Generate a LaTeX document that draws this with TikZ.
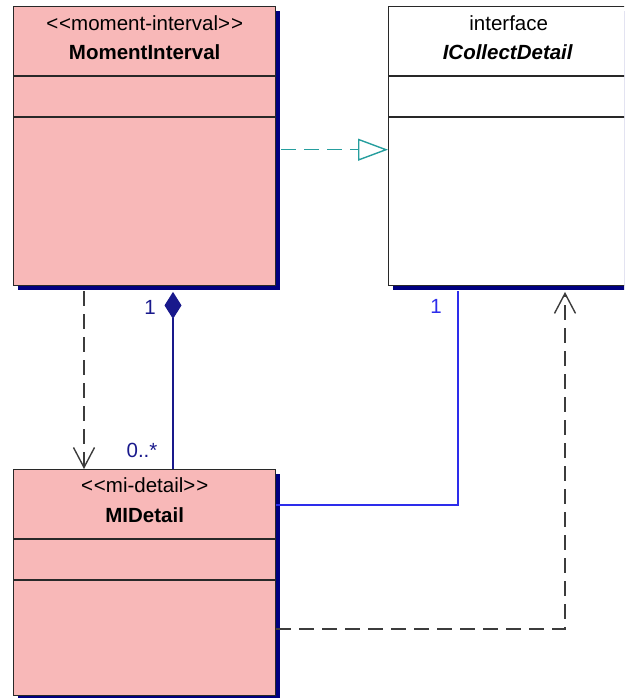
\documentclass[tikz,border=0pt]{standalone}
\usepackage{fontspec}
\setmainfont[Ligatures=NoCommon]{Liberation Sans}
\usetikzlibrary{arrows.meta,calc,shadows}
\definecolor{boxpink}{RGB}{248,184,184}
\definecolor{boxline}{RGB}{40,40,40}
\definecolor{shadowc}{RGB}{0,0,128}
\definecolor{navyc}{RGB}{25,25,140}
\definecolor{assocc}{RGB}{45,45,235}
\definecolor{tealc}{RGB}{38,158,158}
\definecolor{depc}{RGB}{60,60,60}
\tikzset{
  umlbox/.style={draw=boxline, line width=1.4pt, rectangle, inner sep=0pt, anchor=north west,
    drop shadow={shadow xshift=4.5pt, shadow yshift=-4.5pt, fill=shadowc, opacity=1}},
  stereo/.style={font=\fontsize{20.5}{24}\selectfont, inner sep=0pt},
  clsname/.style={font=\fontsize{20.5}{24}\selectfont\bfseries, inner sep=0pt},
  lbl/.style={font=\fontsize{20.5}{24}\selectfont, inner sep=0pt},
  dashline/.style={line width=1.5pt, dash pattern=on 15pt off 8pt},
  dep/.style={dashline, draw=depc, -{Straight Barb[length=20pt,width=21pt,line width=1.4pt]}},
  realiz/.style={dashline, draw=tealc, -{Triangle[open,length=30pt,width=22pt,line width=1.4pt]}},
  compos/.style={draw=navyc, line width=1.4pt, {Diamond[length=27pt,width=17pt]}-},
  assoc/.style={draw=assocc, line width=1.4pt}
}
\newcommand{\lt}{\symbol{60}}
\newcommand{\gt}{\symbol{62}}
\begin{document}
\begin{tikzpicture}[x=1pt,y=-1pt]
\useasboundingbox (0,0) rectangle (624,698);
\clip (0,0) rectangle (624,698);
% boxes
\node[umlbox, fill=boxpink, minimum width=262pt, minimum height=279pt] (mi) at (13,6) {};
\node[umlbox, fill=white, minimum width=242pt, minimum height=279pt] (ic) at (388,6) {};
\node[umlbox, fill=boxpink, minimum width=262pt, minimum height=226pt] (mid) at (13,469) {};
% compartments
\foreach \b in {mi,ic,mid}{
  \draw[boxline, line width=1.4pt] ([yshift=-70pt]\b.north west) -- ([yshift=-70pt]\b.north east);
  \draw[boxline, line width=1.4pt] ([yshift=-111pt]\b.north west) -- ([yshift=-111pt]\b.north east);
}
% texts
\node[stereo] (mist) at ($(mi.north)+(0,17)$) {\lt\kern1pt\lt moment-interval\gt\kern1pt\gt};
\node[clsname] (mina) at ($(mi.north)+(0,46)$) {MomentInterval};
\node[stereo] (icst) at ($(ic.north)+(-1,17)$) {interface};
\node[clsname, font=\fontsize{20.5}{24}\selectfont\bfseries\itshape] (icna) at ($(ic.north)+(-2,46)$) {ICollectDetail};
\node[stereo] (midst) at ($(mid.north)+(0,16)$) {\lt\kern1pt\lt mi-detail\gt\kern1pt\gt};
\node[clsname] (midna) at ($(mid.north)+(0,46)$) {MIDetail};
% connectors
\draw[realiz, shorten <=5pt] ([yshift=-3.5pt]mi.east) -- ([yshift=-3.5pt]ic.west);
\draw[dep, shorten <=5pt] ([xshift=71pt]mi.south west) -- ([xshift=71pt]mid.north west);
\draw[compos, shorten <=5.5pt] ([xshift=160pt]mi.south west) -- ([xshift=160pt]mid.north west);
\draw[assoc, shorten >=5pt] ([yshift=-36pt]mid.north east) -| ([xshift=70pt]ic.south west);
\draw[dep, shorten >=5.5pt] ([yshift=-160pt]mid.north east) -| ([xshift=177pt]ic.south west);
% labels
\node[lbl, text=navyc] (c1) at (150,307) {1};
\node[lbl, text=navyc] (c2) at (142,450) {0..*};
\node[lbl, text=assocc] (a1) at (436,306) {1};
\end{tikzpicture}
\end{document}
